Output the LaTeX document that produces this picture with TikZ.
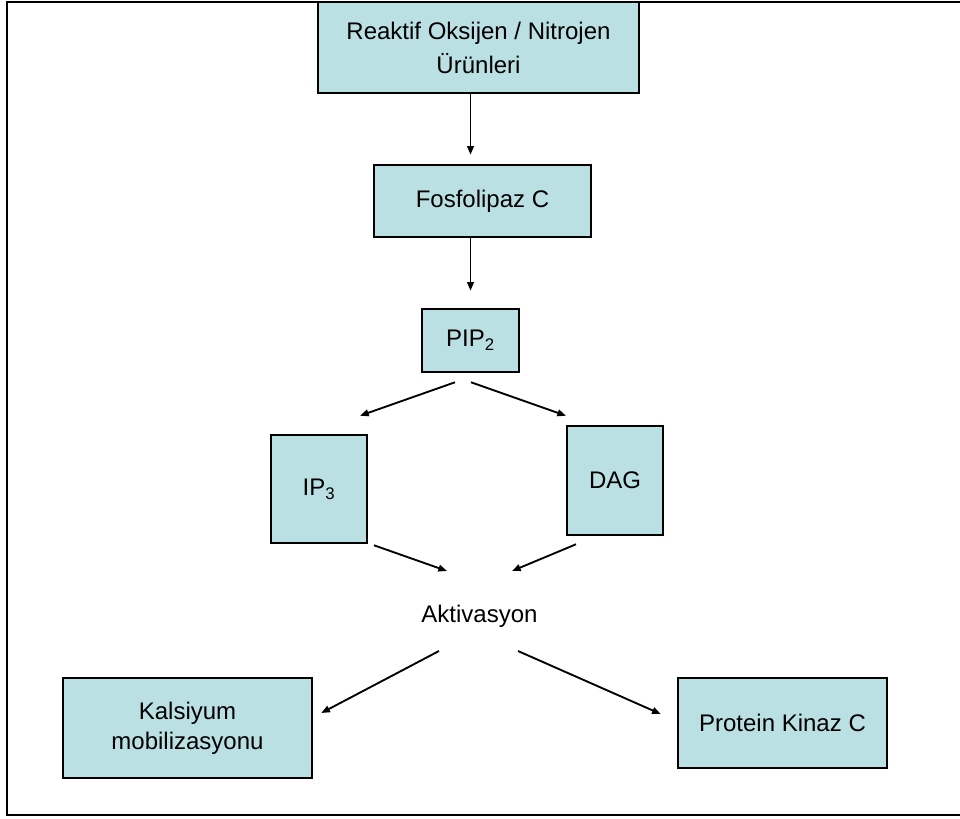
\documentclass[tikz,border=0pt]{standalone}
\usepackage{fontspec}
\setmainfont{Liberation Sans}
\usetikzlibrary{arrows.meta}
\definecolor{boxfill}{RGB}{187,224,227}
\begin{document}
\begin{tikzpicture}[x=0.75pt,y=-0.75pt,
  box/.style={draw=black, fill=boxfill, line width=1.9pt, inner sep=0pt, align=center,
    font=\fontsize{18}{24}\selectfont},
  lbl/.style={inner sep=0pt, font=\fontsize{18}{24}\selectfont},
  arr/.style={draw=black, line width=1.4pt, -{Triangle[length=6.5pt,width=5pt]}},
  frame/.style={draw=black, line width=2.1pt}]
\useasboundingbox (0,0) rectangle (960,818);
\draw[frame] (965,2) -- (7,2) -- (7,815) -- (965,815);

\node[box, minimum width=240.75pt, minimum height=68.25pt,
  font=\fontsize{18}{25.5}\selectfont] (top) at (478.5,47.5)
  {Reaktif Oksijen / Nitrojen\\Ürünleri};
\node[box, minimum width=162.75pt, minimum height=54pt] (fos) at (482.5,201) {Fosfolipaz C};
\node[box, minimum width=72.75pt, minimum height=47.25pt] (pip) at (470.5,340.5) {PIP\textsubscript{2}};
\node[box, minimum width=72pt, minimum height=81pt] (ip3) at (319,489) {IP\textsubscript{3}};
\node[box, minimum width=72pt, minimum height=81.75pt] (dag) at (615,480.5) {DAG};
\node[lbl, anchor=base] (akt) at (479.5,622) {Aktivasyon};
\node[box, minimum width=186.75pt, minimum height=75pt, font=\fontsize{18}{22.5}\selectfont] (kal) at (187.5,728) {Kalsiyum\\mobilizasyonu};
\node[box, minimum width=156.75pt, minimum height=67.5pt] (pkc) at (782.5,723) {Protein Kinaz C};

\draw[arr, shorten >=6.75pt] (top.south -| pip.north) -- (fos.north -| pip.north);
\draw[arr, shorten >=12.75pt] (fos.south -| pip.north) -- (pip.north);
\draw[arr] ([shift={(-15.5,9)}]pip.south) -- ([shift={(41,-18)}]ip3.north);
\draw[arr] ([shift={(0.5,9)}]pip.south) -- ([shift={(-49,-9)}]dag.north);
\draw[arr] ([shift={(55,1)}]ip3.south) -- ([shift={(-32.5,-51)}]akt.base);
\draw[arr] ([shift={(-39,8)}]dag.south) -- ([shift={(32.5,-51)}]akt.base);
\draw[arr] ([shift={(-40.5,29)}]akt.base) -- ([shift={(8,-15)}]kal.east);
\draw[arr] ([shift={(38.5,29)}]akt.base) -- ([shift={(-16,-9)}]pkc.west);
\end{tikzpicture}
\end{document}
